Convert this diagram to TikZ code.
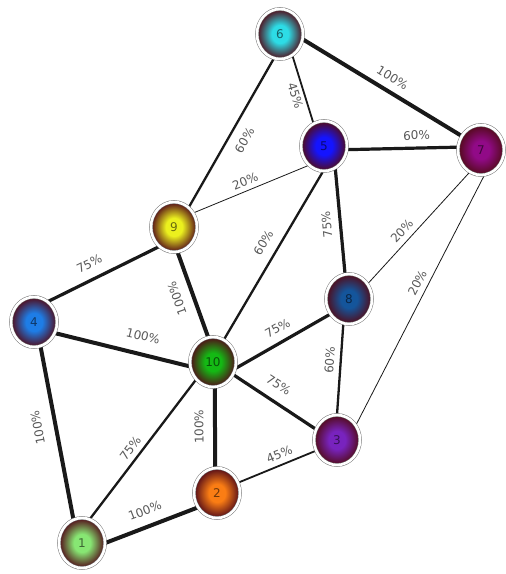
\documentclass[tikz,border=0pt]{standalone}
\usepackage{fontspec}
\setmainfont{DejaVu Sans}
\usetikzlibrary{shapes.geometric,backgrounds}
\makeatletter
\pgfdeclareradialshading[tikz@radial@outer,tikz@radial@inner]{glow}{\pgfpoint{0bp}{0bp}}{color(0bp)=(tikz@radial@inner); color(9bp)=(tikz@radial@inner); color(25bp)=(tikz@radial@outer); color(50bp)=(tikz@radial@outer)}
\makeatother
\definecolor{ballout}{RGB}{82,10,24}
\definecolor{cA}{RGB}{135,230,115}
\definecolor{cB}{RGB}{250,125,20}
\definecolor{cC}{RGB}{120,35,190}
\definecolor{cD}{RGB}{30,125,230}
\definecolor{cE}{RGB}{20,20,255}
\definecolor{cF}{RGB}{45,220,230}
\definecolor{cG}{RGB}{145,10,135}
\definecolor{cH}{RGB}{20,85,155}
\definecolor{cI}{RGB}{235,240,30}
\definecolor{cJ}{RGB}{20,185,20}
\tikzset{
  ball/.style={ellipse, minimum width=46pt, minimum height=50pt, inner sep=0pt,
    outer color=ballout, inner color=#1, shading=glow,
    draw=black!55, line width=0.5pt, double=white, double distance=2.6pt,
    text=#1!45!black, font=\fontsize{12}{12}\selectfont},
  wA/.style={line width=4pt, draw=black!90},
  wB/.style={line width=3.2pt, draw=black!90},
  wC/.style={line width=2.3pt, draw=black!90},
  wD/.style={line width=1.8pt, draw=black!90},
  wE/.style={line width=0.8pt, draw=black!90},
  lab/.style={sloped, allow upside down, inner sep=1pt, text=black!65,
    font=\fontsize{12}{12}\selectfont}
}
\begin{document}
\begin{tikzpicture}[x=1pt,y=-1pt]
\useasboundingbox (0,0) rectangle (506,574);
\node[ball=cA] (n1) at (82,543) {1};
\node[ball=cB] (n2) at (217,493) {2};
\node[ball=cC] (n3) at (337,440) {3};
\node[ball=cD] (n4) at (34,322) {4};
\node[ball=cE] (n5) at (324,146) {5};
\node[ball=cF] (n6) at (280,34) {6};
\node[ball=cG] (n7) at (481,150) {7};
\node[ball=cH] (n8) at (349,299) {8};
\node[ball=cI] (n9) at (174,227) {9};
\node[ball=cJ] (n10) at (213,362) {10};
\begin{scope}[on background layer]
\fill[white] (0,0) rectangle (506,574);
\draw[wA] (n6.-13) -- node[lab, pos=.52, above=6pt] {100\%} (n7.144);
\draw[wD] (n6.-60) -- node[lab, pos=.55, below=2.5pt] {45\%} (n5.115);
\draw[wC] (n9.53) -- node[lab, pos=.50, below=8.5pt] {60\%} (n6.-104);
\draw[wB] (n5.-9) -- node[lab, pos=.63, above=5.5pt] {60\%} (n7.173);
\draw[wE] (n9.36) -- node[lab, pos=.48, above=3.5pt] {20\%} (n5.-128);
\draw[wB] (n8.99) -- node[lab, pos=.48, above=6.5pt] {75\%} (n5.-63);
\draw[wC] (n10.64) -- node[lab, pos=.53, above=8.5pt] {60\%} (n5.-92);
\draw[wE] (n8.39) -- node[lab, pos=.41, above=4.5pt] {20\%} (n7.-117);
\draw[wE] (n3.38) -- node[lab, pos=.55, above=4.5pt] {20\%} (n7.-82);
\draw[wB] (n4.56) -- node[lab, pos=.435, above=8.6pt] {75\%} (n9.233);
\draw[wA] (n10.101) -- node[lab, pos=.52, above=8.6pt] {100\%} (n9.-82);
\draw[wA] (n4.-28) -- node[lab, pos=.62, above=10.6pt] {100\%} (n10.191);
\draw[wB] (n10.-16) -- node[lab, pos=.515, above=6.8pt] {75\%} (n8.219);
\draw[wB] (n10.-32) -- node[lab, pos=.44, above=9.5pt] {75\%} (n3.153);
\draw[wC] (n3.90) -- node[lab, pos=.59, above=4.5pt] {60\%} (n8.-103);
\draw[wA] (n2.94) -- node[lab, pos=.51, above=8.4pt] {100\%} (n10.-86);
\draw[wC] (n1.72) -- node[lab, pos=.46, above=3.8pt] {75\%} (n10.-134);
\draw[wD] (n2.26) -- node[lab, pos=.58, above=4pt] {45\%} (n3.207);
\draw[wA] (n1.0) -- node[lab, pos=.49, above=8.4pt] {100\%} (n2.217);
\draw[wA] (n1.110) -- node[lab, pos=.55, above=10.4pt] {100\%} (n4.-75);
\end{scope}
\end{tikzpicture}
\end{document}
